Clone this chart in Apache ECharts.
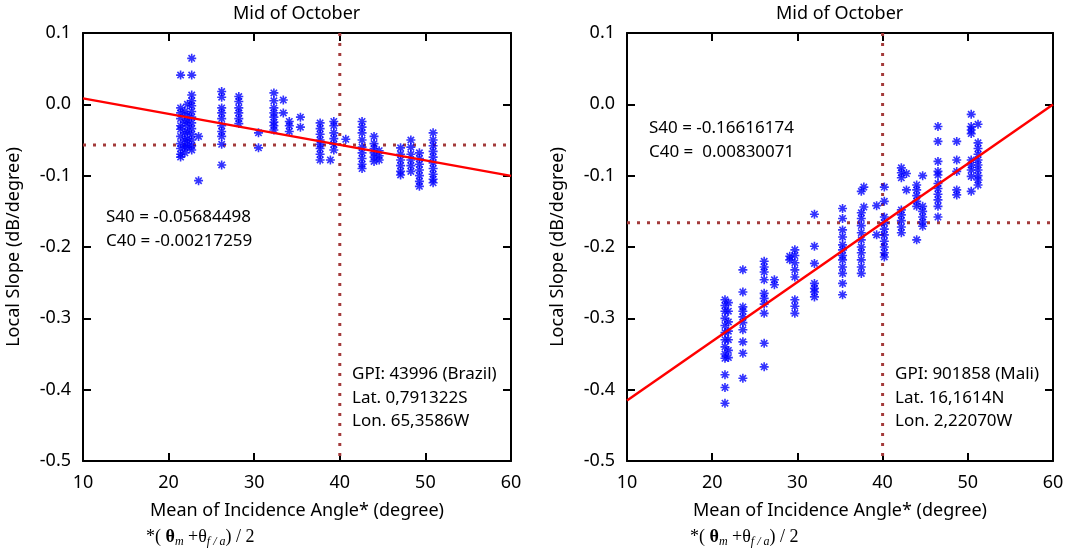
<!DOCTYPE html>
<html><head><meta charset="utf-8">
<script src="https://cdn.jsdelivr.net/npm/echarts@6/dist/echarts.min.js"></script>
<style>html,body{margin:0;padding:0;background:#fff}#c{width:1068px;height:554px}</style>
</head><body><div id="c"></div>
<script>
// ---- Data ----
const xTicks = [10, 20, 30, 40, 50, 60];
const yTicks = [-0.5, -0.4, -0.3, -0.2, -0.1, 0.0, 0.1];

// Left panel: GPI 43996 (Brazil)
const leftAngle = [21.4, 21.9, 22.2, 22.7, 23.5, 26.2, 28.2, 30.5, 32.3, 33.4, 34.1, 35.4, 37.7, 38.9, 39.3, 40.7, 42.6, 44.0, 44.6, 47.1, 48.3, 49.3, 50.9];
const leftSlope = [
  [0.041, -0.005, -0.012, -0.02, -0.03, -0.035, -0.045, -0.055, -0.062, -0.07, -0.074],
  [-0.01, -0.025, -0.04, -0.05, -0.06, -0.068],
  [0.0, -0.015, -0.022, -0.03, -0.038, -0.048, -0.055, -0.06],
  [0.0645, 0.041, 0.013, 0.005, -0.002, -0.01, -0.018, -0.026, -0.034, -0.042, -0.05, -0.058, -0.064],
  [-0.045, -0.107],
  [0.018, 0.01, -0.005, -0.012, -0.02, -0.03, -0.038, -0.045, -0.056, -0.085],
  [0.011, 0.004, -0.005, -0.012, -0.02, -0.027],
  [-0.040, -0.061],
  [0.016, 0.005, -0.005, -0.012, -0.018, -0.025, -0.03, -0.036],
  [0.006, -0.012],
  [-0.024, -0.03, -0.038],
  [-0.018, -0.032],
  [-0.026, -0.034, -0.042, -0.05, -0.056, -0.062, -0.07, -0.078],
  [-0.078],
  [-0.024, -0.03, -0.04, -0.048, -0.056, -0.064],
  [-0.049],
  [-0.024, -0.032, -0.04, -0.05, -0.06, -0.068, -0.076, -0.084, -0.09],
  [-0.045, -0.055, -0.062, -0.068, -0.074, -0.08],
  [-0.065, -0.072, -0.078],
  [-0.061, -0.07, -0.078, -0.086, -0.094, -0.099],
  [-0.05, -0.06, -0.07, -0.078, -0.086, -0.094],
  [-0.068, -0.076, -0.084, -0.092, -0.1, -0.108, -0.115],
  [-0.04, -0.05, -0.058, -0.066, -0.074, -0.082, -0.09, -0.098, -0.105, -0.11]
];
const leftS40 = -0.05684498, leftC40 = -0.00217259;

// Right panel: GPI 901858 (Mali)
const rightAngle = [21.5, 21.9, 23.6, 26.1, 27.3, 29.1, 29.7, 32.0, 35.3, 37.5, 37.8, 39.3, 40.2, 42.2, 42.8, 44.0, 44.7, 46.5, 48.7, 50.4, 51.2];
const rightSlope = [
  [-0.274, -0.282, -0.29, -0.3, -0.31, -0.32, -0.33, -0.34, -0.35, -0.356, -0.379, -0.397, -0.419],
  [-0.278, -0.29, -0.305, -0.318, -0.33, -0.345, -0.355],
  [-0.232, -0.263, -0.284, -0.29, -0.298, -0.306, -0.316, -0.333, -0.349, -0.384],
  [-0.22, -0.228, -0.235, -0.246, -0.265, -0.272, -0.28, -0.293, -0.335, -0.368],
  [-0.246, -0.253],
  [-0.213, -0.218],
  [-0.204, -0.212, -0.222, -0.232, -0.242, -0.274, -0.283, -0.293],
  [-0.154, -0.199, -0.223, -0.251, -0.258, -0.263, -0.27],
  [-0.146, -0.16, -0.176, -0.186, -0.197, -0.204, -0.212, -0.218, -0.228, -0.237, -0.251, -0.267],
  [-0.122, -0.152, -0.16, -0.17, -0.18, -0.19, -0.2, -0.208, -0.218, -0.228, -0.237],
  [-0.116, -0.144],
  [-0.142, -0.183],
  [-0.116, -0.136, -0.158, -0.166, -0.175, -0.183, -0.192, -0.2, -0.208, -0.214],
  [-0.089, -0.096, -0.103, -0.148, -0.155, -0.163, -0.172, -0.18],
  [-0.097, -0.12],
  [-0.113, -0.12, -0.128, -0.136, -0.143, -0.19],
  [-0.1, -0.143, -0.15, -0.158, -0.165, -0.171],
  [-0.031, -0.052, -0.08, -0.094, -0.099, -0.111, -0.118, -0.126, -0.134, -0.143, -0.158],
  [-0.052, -0.078, -0.094, -0.12, -0.127],
  [-0.014, -0.031, -0.036, -0.041, -0.078, -0.085, -0.092, -0.101, -0.122],
  [-0.028, -0.054, -0.062, -0.07, -0.078, -0.085, -0.092, -0.1, -0.106, -0.113]
];
const rightS40 = -0.16616174, rightC40 = 0.00830071;
const refAngle = 40;

// ---- Build ----
function pts(ang, sl) { const o = []; ang.forEach((a, i) => sl[i].forEach(v => o.push([a, v]))); return o; }
function fit(s, c) { return [[10, s + c * (10 - refAngle)], [60, s + c * (60 - refAngle)]]; }

const FONT = 'Noto Sans';
const star = 'path://M-0.9,-5 L0.9,-5 L0.9,5 L-0.9,5 Z M-5,-0.9 L5,-0.9 L5,0.9 L-5,0.9 Z M-4.17,-2.9 L-2.9,-4.17 L4.17,2.9 L2.9,4.17 Z M2.9,-4.17 L4.17,-2.9 L-2.9,4.17 L-4.17,2.9 Z';

const grids = [
  { left: 83, top: 33, width: 428, height: 428 },
  { left: 627, top: 33, width: 426, height: 428 }
];
const xAxes = [], yAxes = [];
[0, 1].forEach(g => {
  const base = { min: 10, max: 60, interval: 10, gridIndex: g, splitLine: { show: false },
    axisLine: { onZero: false, lineStyle: { color: '#000', width: 2 } },
    axisTick: { inside: true, length: 8, lineStyle: { color: '#000', width: 2 } } };
  xAxes.push(Object.assign({}, base, { position: 'bottom',
    axisLabel: { color: '#000', fontFamily: FONT, fontSize: 18, margin: 13 },
    name: 'Mean of Incidence Angle* (degree)', nameLocation: 'middle', nameGap: 41,
    nameTextStyle: { color: '#000', fontFamily: FONT, fontSize: 18 } }));
  xAxes.push(Object.assign({}, base, { position: 'top', axisLabel: { show: false } }));
  const ybase = { min: -0.5, max: 0.1, interval: 0.1, gridIndex: g, splitLine: { show: false },
    axisLine: { onZero: false, lineStyle: { color: '#000', width: 2 } },
    axisTick: { inside: true, length: 8, lineStyle: { color: '#000', width: 2 } } };
  yAxes.push(Object.assign({}, ybase, { position: 'left',
    axisLabel: { color: '#000', fontFamily: FONT, fontSize: 18, margin: 12, formatter: v => v.toFixed(1) },
    name: 'Local Slope (dB/degree)', nameLocation: 'middle', nameGap: 60, nameRotate: 90,
    nameTextStyle: { color: '#000', fontFamily: FONT, fontSize: 18 } }));
  yAxes.push(Object.assign({}, ybase, { position: 'right', axisLabel: { show: false } }));
});

const panels = [
  { ang: leftAngle, sl: leftSlope, s: leftS40, c: leftC40 },
  { ang: rightAngle, sl: rightSlope, s: rightS40, c: rightC40 }
];
const series = [];
panels.forEach((p, g) => {
  const xi = g * 2, yi = g * 2;
  const dot = { color: '#a33a3a', width: 3, type: [3, 7] };
  series.push({ type: 'line', xAxisIndex: xi, yAxisIndex: yi, data: [[10, p.s], [60, p.s]], symbol: 'none', lineStyle: dot, silent: true, z: 1 });
  series.push({ type: 'line', xAxisIndex: xi, yAxisIndex: yi, data: [[refAngle, 0.1], [refAngle, -0.5]], symbol: 'none', lineStyle: dot, silent: true, z: 1 });
  series.push({ type: 'scatter', xAxisIndex: xi, yAxisIndex: yi, data: pts(p.ang, p.sl), symbol: star, symbolSize: 9, itemStyle: { color: '#0000ff' }, z: 2 });
  series.push({ type: 'line', xAxisIndex: xi, yAxisIndex: yi, data: fit(p.s, p.c), symbol: 'none', lineStyle: { color: '#ff0000', width: 2.5 }, z: 3 });
});

const tstyle = { fill: '#000', font: '17px "Noto Sans"' };
function txt(x, y, s) { return { type: 'text', left: x, top: y, style: Object.assign({ text: s }, tstyle) }; }
function formula(x, y) {
  return { type: 'text', left: x, top: y, style: {
    text: '{a|*( }{b|θ}{s|m}{a| +θ}{s|f / a}{a|) / 2}',
    rich: {
      a: { fontFamily: 'Liberation Serif', fontSize: 18, fill: '#000' },
      b: { fontFamily: 'Liberation Serif', fontSize: 18, fontWeight: 'bold', fill: '#000' },
      s: { fontFamily: 'Liberation Serif', fontSize: 12, fontStyle: 'italic', fill: '#000', padding: [10, 0, 0, 0] }
    } } };
}
const graphic = [
  { type: 'text', left: 233, top: 5, style: { text: 'Mid of October', fill: '#000', font: '18px "Noto Sans"' } },
  { type: 'text', left: 776, top: 5, style: { text: 'Mid of October', fill: '#000', font: '18px "Noto Sans"' } },
  txt(106, 209, 'S40 = -0.05684498'),
  txt(106, 233, 'C40 = -0.00217259'),
  txt(352, 366, 'GPI: 43996 (Brazil)'),
  txt(352, 390, 'Lat. 0,791322S'),
  txt(352, 413, 'Lon. 65,3586W'),
  txt(649, 120, 'S40 = -0.16616174'),
  txt(649, 144, 'C40 =  0.00830071'),
  txt(895, 366, 'GPI: 901858 (Mali)'),
  txt(895, 390, 'Lat. 16,1614N'),
  txt(895, 413, 'Lon. 2,22070W'),
  formula(146, 528),
  formula(690, 528)
];

const chart = echarts.init(document.getElementById('c'), null, { renderer: 'canvas' });
chart.setOption({
  animation: false,
  backgroundColor: '#fff',
  grid: grids, xAxis: xAxes, yAxis: yAxes, series: series, graphic: graphic
});
</script>
</body></html>
